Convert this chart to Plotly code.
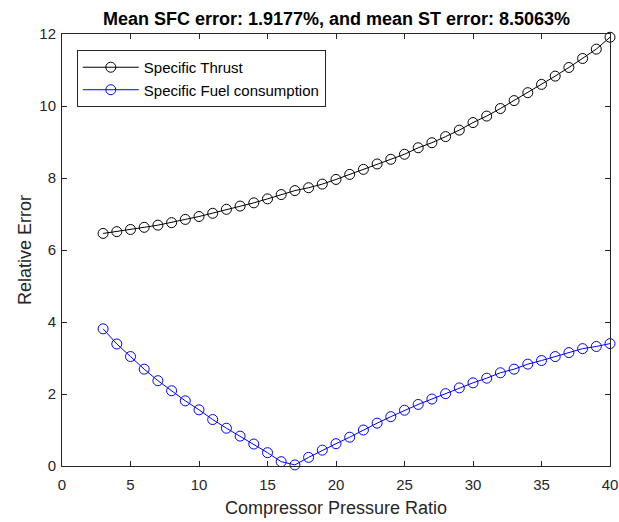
import plotly.graph_objects as go

pressure_ratio = list(range(3, 41))
specific_thrust_err = [6.46, 6.51, 6.57, 6.63, 6.69, 6.76, 6.85, 6.93, 7.02, 7.13,
                       7.22, 7.31, 7.42, 7.54, 7.65, 7.73, 7.83, 7.96, 8.10, 8.24,
                       8.39, 8.52, 8.66, 8.84, 8.98, 9.15, 9.33, 9.54, 9.72, 9.93,
                       10.15, 10.37, 10.60, 10.83, 11.07, 11.32, 11.58, 11.91]
sfc_err = [3.81, 3.39, 3.04, 2.69, 2.37, 2.09, 1.81, 1.56, 1.29, 1.05,
           0.83, 0.61, 0.37, 0.12, 0.03, 0.24, 0.44, 0.62, 0.80, 1.00,
           1.19, 1.37, 1.55, 1.71, 1.86, 2.01, 2.17, 2.31, 2.44, 2.59,
           2.69, 2.83, 2.93, 3.04, 3.15, 3.26, 3.32, 3.40]
x_ticks = [0, 5, 10, 15, 20, 25, 30, 35, 40]
y_ticks = [0, 2, 4, 6, 8, 10, 12]

FONT = "Liberation Sans, Arial, Helvetica, sans-serif"
AX = "#262626"

fig = go.Figure()
fig.add_trace(go.Scatter(
    x=pressure_ratio, y=specific_thrust_err, mode="lines+markers",
    name="Specific Thrust",
    line=dict(color="black", width=1),
    marker=dict(symbol="circle-open", size=10, color="black", line=dict(width=1)),
    cliponaxis=False))
fig.add_trace(go.Scatter(
    x=pressure_ratio, y=sfc_err, mode="lines+markers",
    name="Specific Fuel consumption",
    line=dict(color="blue", width=1),
    marker=dict(symbol="circle-open", size=10, color="blue", line=dict(width=1)),
    cliponaxis=False))

axis_common = dict(showline=True, linecolor=AX, linewidth=1, mirror="allticks",
                   ticks="inside", ticklen=5, tickcolor=AX, showgrid=False,
                   zeroline=False, ticklabeloverflow="allow", automargin=False,
                   tickfont=dict(family=FONT, size=15, color=AX))

fig.update_layout(
    width=619, height=522,
    margin=dict(l=62, r=9, t=34, b=56),
    paper_bgcolor="white", plot_bgcolor="white",
    font=dict(family=FONT, color=AX),
    title=dict(text="<b>Mean SFC error: 1.9177%, and mean ST error: 8.5063%</b>",
               x=(62 + 611) / 2 / 619, xanchor="center", y=1 - 19 / 522, yanchor="middle",
               font=dict(family=FONT, size=18, color="black")),
    xaxis=dict(range=[0, 40], tickvals=x_ticks, ticklabelstandoff=5,
               title=dict(text="Compressor Pressure Ratio", font=dict(family=FONT, size=18, color=AX), standoff=9),
               **axis_common),
    yaxis=dict(range=[0, 12], tickvals=y_ticks, ticklabelstandoff=2,
               title=dict(text="Relative Error", font=dict(family=FONT, size=18, color=AX), standoff=3),
               **axis_common),
    legend=dict(x=0.027, y=0.963, xanchor="left", yanchor="top",
                bordercolor=AX, borderwidth=1, bgcolor="white",
                font=dict(family=FONT, size=15, color="black"),
                itemwidth=56, tracegroupgap=0),
    showlegend=True,
)

fig.write_html("out.html")
